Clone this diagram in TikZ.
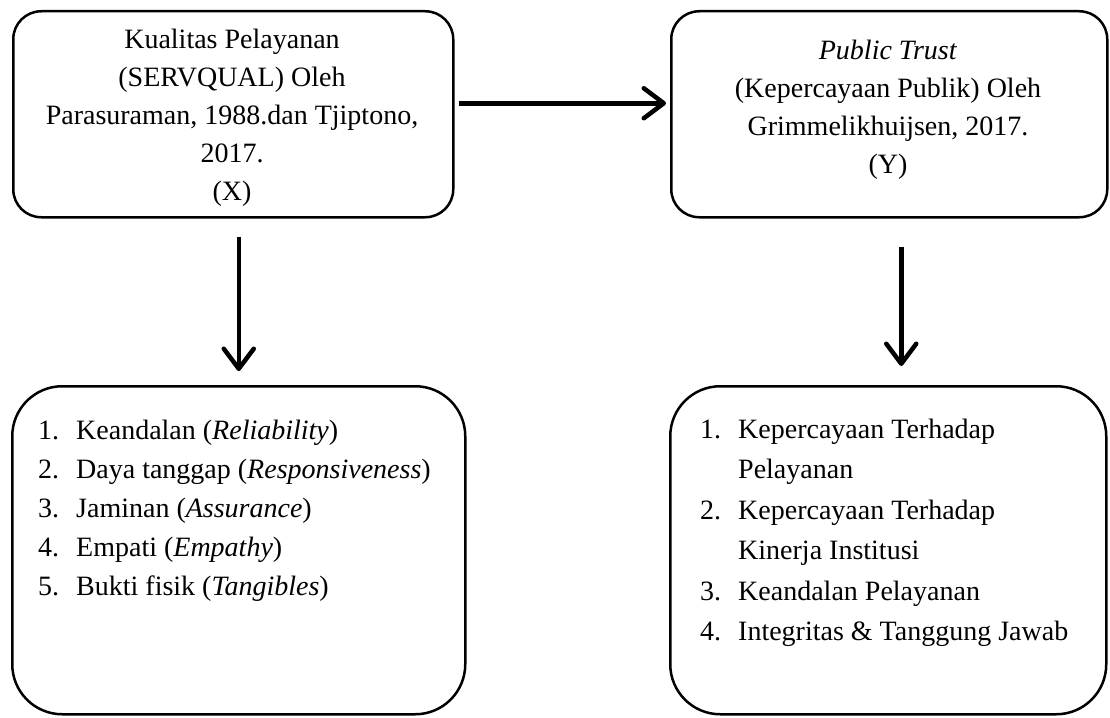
\documentclass[tikz,border=0pt]{standalone}
\usepackage{fontspec}
\setmainfont{Liberation Serif}
\usetikzlibrary{arrows.meta}
\begin{document}
\begin{tikzpicture}[x=1pt,y=-1pt,
  box/.style={draw, line width=2.5pt, rounded corners=28pt, anchor=north west, inner sep=0pt},
  bigbox/.style={box, rounded corners=50pt},
  arr/.style={line width=4.5pt, -{Straight Barb[length=20pt,width=30pt,round]}},
  txt/.style={align=center, inner sep=0pt, font=\fontsize{28}{38}\selectfont},
  lstL/.style={anchor=base west, inner sep=0pt, font=\fontsize{28}{39}\selectfont},
  lstR/.style={anchor=base west, inner sep=0pt, font=\fontsize{28}{40.5}\selectfont}]
\useasboundingbox (0,0) rectangle (1110,717);

\node[box, minimum width=440pt, minimum height=206pt] (tl) at (12,10) {};
\node[box, minimum width=436pt, minimum height=206pt] (tr) at (670,10) {};
\node[txt] (tlt) at (232,118)
  {Kualitas Pelayanan\\(SERVQUAL) Oleh\\Parasuraman, 1988.dan Tjiptono,\\2017.\\(X)};
\node[txt] (trt) at (888,110)
  {\textit{Public Trust}\\(Kepercayaan Publik) Oleh\\Grimmelikhuijsen, 2017.\\(Y)};

\node[bigbox, minimum width=453pt, minimum height=328pt] (bl) at (11,385) {};
\node[bigbox, minimum width=436pt, minimum height=328pt] (br) at (669,385) {};

\node[lstL] (bll) at (38,439) {\begin{tabular}[t]{@{}p{38pt}@{}l@{}}
1. & Keandalan (\textit{Reliability})\\
2. & Daya tanggap (\textit{Responsiveness})\\
3. & Jaminan (\textit{Assurance})\\
4. & Empati (\textit{Empathy})\\
5. & Bukti fisik (\textit{Tangibles})
\end{tabular}};

\node[lstR] (brl) at (700,438) {\begin{tabular}[t]{@{}p{38pt}@{}l@{}}
1. & Kepercayaan Terhadap\\
 & Pelayanan\\
2. & Kepercayaan Terhadap\\
 & Kinerja Institusi\\
3. & Keandalan Pelayanan\\
4. & Integritas \& Tanggung Jawab
\end{tabular}};

\draw[arr, shorten <=4pt, shorten >=4pt] ([yshift=11pt]tl.east) -- ([yshift=11pt]tr.west);
\draw[arr, shorten <=18pt, shorten >=14pt] (tl.south -| bl.north) -- (bl.north);
\draw[arr, shorten <=28pt, shorten >=19pt] ([xshift=12pt]tr.south) -- ([xshift=13pt]br.north);
\end{tikzpicture}
\end{document}
